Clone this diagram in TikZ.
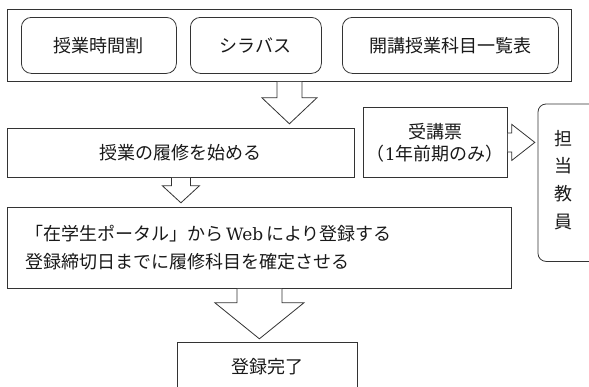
\documentclass[tikz,border=0pt]{standalone}
\usepackage{fontspec}
\setmainfont{Noto Sans CJK JP}
\newfontfamily\latinserif{DejaVu Serif}
\usetikzlibrary{calc}
\begin{document}
\begin{tikzpicture}[x=1pt,y=-1pt,
  box/.style={draw=black!80, line width=0.8pt, inner sep=0pt, anchor=north west},
  rbox/.style={box, rounded corners=10pt},
  barrow/.style={draw=black!80, line width=0.8pt, fill=white, line join=miter},
  txt/.style={font=\fontsize{18}{28}\selectfont, text=black!90},
  txtb/.style={font=\fontsize{18}{22}\selectfont, text=black!90}]
\useasboundingbox (0,0) rectangle (589,386);
\clip (0,0) rectangle (589,386);

% top group
\node[box, minimum width=564pt, minimum height=72pt] (outer) at (7,9) {};
\node[rbox, minimum width=155pt, minimum height=56pt, txt] (r1) at (21,17) {授業時間割};
\node[rbox, minimum width=131pt, minimum height=56pt, txt] (r2) at (190,17) {シラバス};
\node[rbox, minimum width=216pt, minimum height=56pt, txt] (r3) at (342,17) {開講授業科目一覧表};

% boxes
\node[box, minimum width=347pt, minimum height=49pt, txt] (b1) at (7,128) {授業の履修を始める};
\node[box, minimum width=504pt, minimum height=81pt, inner xsep=18pt, text width=468pt, align=left, txt] (b2) at (7,207)
  {「在学生ポータル」から{\latinserif\fontsize{17}{28}\selectfont\,Web\,}により登録する\\登録締切日までに履修科目を確定させる};
\node[box, minimum width=180pt, minimum height=48pt, txt] (b3) at (177,342) {登録完了};
\node[box, minimum width=144pt, minimum height=70pt, align=center, txtb] (uk) at (363,107)
  {受講票\\（{\latinserif\fontsize{17}{22}\selectfont 1}年前期のみ）};

% teacher box (right side cut by the page edge)
\node[inner sep=0pt, anchor=north west, minimum width=62pt, minimum height=157pt] (tt) at (538,104) {};
\draw[draw=black!80, line width=0.8pt, rounded corners=8pt] (tt.north east) -- (tt.north west) -- (tt.south west) -- (tt.south east);
\node[align=center, font=\fontsize{18}{27.7}\selectfont, text=black!90, inner sep=0pt] (ttl) at (563,180) {担\\当\\教\\員};

% block arrows
\draw[barrow] ($(outer.south)+(-12.5,0)$) -- ++(0,16) -- ++(-15,0) -- ($(outer.south)+(0,42)$)
  -- ($(outer.south)+(27.5,16)$) -- ++(-15,0) -- ($(outer.south)+(12.5,0)$);
\draw[barrow] ($(b1.south)+(-9.5,0)$) -- ++(0,8) -- ++(-9,0) -- ($(b1.south)+(0,25)$)
  -- ($(b1.south)+(18.5,8)$) -- ++(-9,0) -- ($(b1.south)+(9.5,0)$);
\draw[barrow] ($(b2.south)+(-22.5,0)$) -- ++(0,14) -- ++(-22,0) -- ($(b2.south)+(0,50)$)
  -- ($(b2.south)+(44.5,14)$) -- ++(-22,0) -- ($(b2.south)+(22.5,0)$);
\draw[barrow] ($(uk.east)+(0,-9.5)$) -- ++(4,0) -- ++(0,-8.5) -- ($(uk.east)+(27,0)$)
  -- ($(uk.east)+(4,18)$) -- ++(0,-8.5) -- ($(uk.east)+(0,9.5)$);
\end{tikzpicture}
\end{document}
